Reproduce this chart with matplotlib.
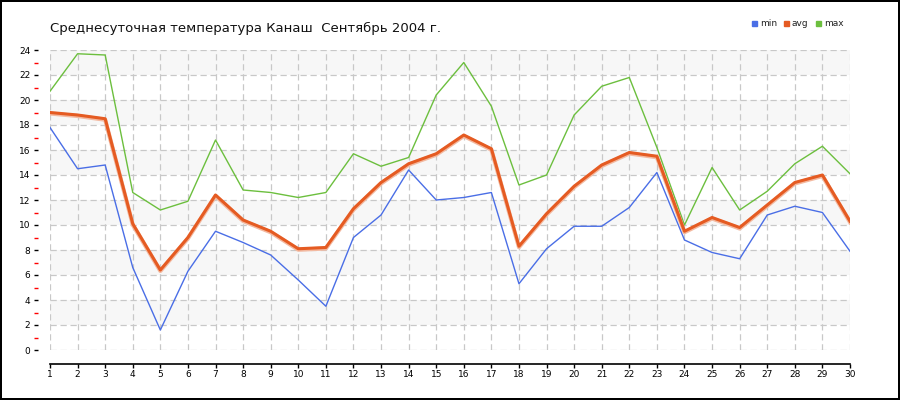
import numpy as np
import matplotlib.pyplot as plt
from matplotlib.ticker import MultipleLocator

# days of September 2004
days = list(range(1, 31))

t_min = [17.8, 14.5, 14.8, 6.6, 1.6, 6.3, 9.5, 8.6, 7.6, 5.6,
         3.5, 9.0, 10.8, 14.4, 12.0, 12.2, 12.6, 5.3, 8.1, 9.9,
         9.9, 11.4, 14.2, 8.8, 7.8, 7.3, 10.8, 11.5, 11.0, 7.9]
t_avg = [19.0, 18.8, 18.5, 10.1, 6.4, 9.0, 12.4, 10.4, 9.5, 8.1,
         8.2, 11.3, 13.4, 14.9, 15.7, 17.2, 16.1, 8.3, 10.9, 13.1,
         14.8, 15.8, 15.5, 9.5, 10.6, 9.8, 11.6, 13.4, 14.0, 10.3]
t_max = [20.7, 23.7, 23.6, 12.6, 11.2, 11.9, 16.8, 12.8, 12.6, 12.2,
         12.6, 15.7, 14.7, 15.4, 20.4, 23.0, 19.5, 13.2, 14.0, 18.8,
         21.1, 21.8, 16.2, 10.0, 14.6, 11.2, 12.7, 14.9, 16.3, 14.1]

title = "Среднесуточная температура Канаш  Сентябрь 2004 г."

c_min = '#4a6ee6'
c_avg = '#e55b22'
c_max = '#6cbf3e'


def main():
    fig = plt.figure(figsize=(9, 4), dpi=100)
    fig.patch.set_edgecolor('black')
    fig.patch.set_linewidth(1.5)
    ax = fig.add_axes([50 / 900, 50 / 400, 800 / 900, 300 / 400])

    ax.set_xlim(1, 30)
    ax.set_ylim(0, 24)

    # alternating light bands
    for lo in range(2, 24, 4):
        ax.axhspan(lo, lo + 2, color='#f7f7f7', zorder=0, lw=0)

    ax.grid(True, color='#c8c8c8', linestyle=(0, (5, 3)), linewidth=0.9)
    ax.set_axisbelow(True)

    ax.plot(days, t_max, color=c_max, lw=1.0, zorder=3)
    ax.plot(days, t_min, color=c_min, lw=1.0, zorder=3)
    # avg: thick line with faint shadow
    ax.plot(days, np.array(t_avg) - 0.08, color='#f3b9a0', lw=3.0, zorder=3)
    ax.plot(days, t_avg, color=c_avg, lw=2.2, zorder=4)

    ax.xaxis.set_major_locator(MultipleLocator(1))
    ax.yaxis.set_major_locator(MultipleLocator(2))
    ax.yaxis.set_minor_locator(MultipleLocator(1))

    for s in ['top', 'right']:
        ax.spines[s].set_visible(False)
    ax.spines['bottom'].set_position(('outward', 10))
    ax.spines['left'].set_position(('outward', 10))
    ax.spines['bottom'].set_linewidth(1.2)
    ax.spines['left'].set_color('none')

    ax.tick_params(axis='x', which='major', labelsize=6.5, length=3,
                   width=1, colors='black', pad=1.5)
    ax.tick_params(axis='y', which='major', labelsize=6.5, length=3.2,
                   direction='inout', width=1, colors='black', pad=2.5)
    ax.tick_params(axis='y', which='minor', length=2.4, direction='inout',
                   width=1, color='red')
    ax.tick_params(axis='x', which='minor', length=0)

    fig.text(50 / 900, 1 - 28 / 400, title, fontsize=9.5, va='center',
             ha='left', color='#111111')

    # legend
    items = [('min', c_min, 752), ('avg', c_avg, 784), ('max', c_max, 816)]
    for name, col, px in items:
        fig.patches.append(plt.Rectangle((px / 900, 1 - 26 / 400), 5 / 900, 5 / 400,
                                         transform=fig.transFigure, color=col))
        fig.text((px + 8) / 900, 1 - 23 / 400, name, fontsize=6.5,
                 va='center', ha='left', color='#222222')

    fig.savefig('out.png', dpi=100, edgecolor=fig.get_edgecolor())


if __name__ == '__main__':
    main()
